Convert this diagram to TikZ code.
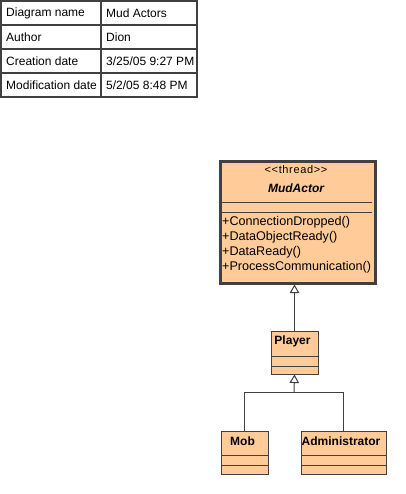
\documentclass[tikz,border=0pt]{standalone}
\usepackage{fontspec}
\setmainfont{Liberation Sans}
\usetikzlibrary{arrows.meta}
\definecolor{peach}{RGB}{255,204,153}
\definecolor{edge}{RGB}{64,64,64}
\begin{document}
\begin{tikzpicture}[x=1pt,y=-1pt,
  txt/.style={inner sep=0pt,font=\fontsize{12}{14}\selectfont},
  cell/.style={txt,anchor=west},
  comp/.style={draw=edge,fill=peach,line width=1pt,inner sep=0pt,minimum height=0pt,anchor=north west},
  clsname/.style={inner sep=0pt,font=\fontsize{12}{14}\selectfont\bfseries},
  op/.style={inner sep=0pt,anchor=west,font=\fontsize{12.6}{14}\selectfont},
  gen/.style={draw=edge,line width=1pt,-{Triangle[open,length=8.5pt,width=9.5pt,fill=white]}}
]
\useasboundingbox (0,0) rectangle (405,494);
% info table
\draw[edge,line width=2pt] (1,1) rectangle (197,97);
\foreach \yy in {25,49,73} \draw[edge,line width=2pt] (1,\yy) -- (197,\yy);
\draw[edge,line width=2pt] (101,1) -- (101,97);
\node[cell] (k1) at (6,13) {Diagram name};
\node[cell] (v1) at (106,13) {Mud Actors};
\node[cell] (k2) at (6,37) {Author};
\node[cell] (v2) at (106,37) {Dion};
\node[cell] (k3) at (6,61) {Creation date};
\node[cell] (v3) at (106,61) {3/25/05 9:27 PM};
\node[cell] (k4) at (6,85) {Modification date};
\node[cell] (v4) at (106,85) {5/2/05 8:48 PM};
% MudActor (active class)
\node[draw=edge,fill=peach,line width=3pt,inner sep=0pt,minimum width=155pt,minimum height=121pt,anchor=north west] (mud) at (218.5,160.5) {};
\draw[edge,line width=1pt] (220,202.5) -- (372,202.5);
\draw[edge,line width=1pt] (220,212.5) -- (372,212.5);
\node[inner sep=0pt,font=\fontsize{11}{12}\selectfont] (mudst) at (296,170) {\addfontfeatures{LetterSpace=6}<{}<thread>{}>};
\node[inner sep=0pt,font=\fontsize{12}{14}\selectfont\bfseries\itshape] (mudn) at (296,188) {MudActor};
\node[op] (o1) at (222,222.5) {+ConnectionDropped()};
\node[op] (o2) at (222,237.5) {+DataObjectReady()};
\node[op] (o3) at (222,252.5) {+DataReady()};
\node[op] (o4) at (222,267.5) {+ProcessCommunication()};
% Player
\node[comp,minimum width=47pt,minimum height=25pt] (plN) at (270.5,330.5) {};
\node[comp,minimum width=47pt,minimum height=10pt] (plA) at (270.5,355.5) {};
\node[comp,minimum width=47pt,minimum height=8pt] (plO) at (270.5,365.5) {};
\node[clsname] (pl) at (292.5,341.5) {Player};
% Mob
\node[comp,minimum width=47pt,minimum height=24pt] (mobN) at (220.5,430.5) {};
\node[comp,minimum width=47pt,minimum height=10pt] (mobA) at (220.5,454.5) {};
\node[comp,minimum width=47pt,minimum height=9pt] (mobO) at (220.5,464.5) {};
\node[clsname] (mob) at (242.5,441.5) {Mob};
% Administrator
\node[comp,minimum width=85pt,minimum height=24pt] (adN) at (300.5,430.5) {};
\node[comp,minimum width=85pt,minimum height=10pt] (adA) at (300.5,454.5) {};
\node[comp,minimum width=85pt,minimum height=9pt] (adO) at (300.5,464.5) {};
\node[clsname] (ad) at (341,441.5) {Administrator};
% generalizations
\coordinate (j) at (294,392.5);
\draw[gen] (plN.north) -- (plN.north |- mud.south);
\draw[edge,line width=1pt] (mobN.north) |- (j);
\draw[edge,line width=1pt] (adN.north) |- (j);
\draw[gen] (j) -- (plO.south);
\end{tikzpicture}
\end{document}
